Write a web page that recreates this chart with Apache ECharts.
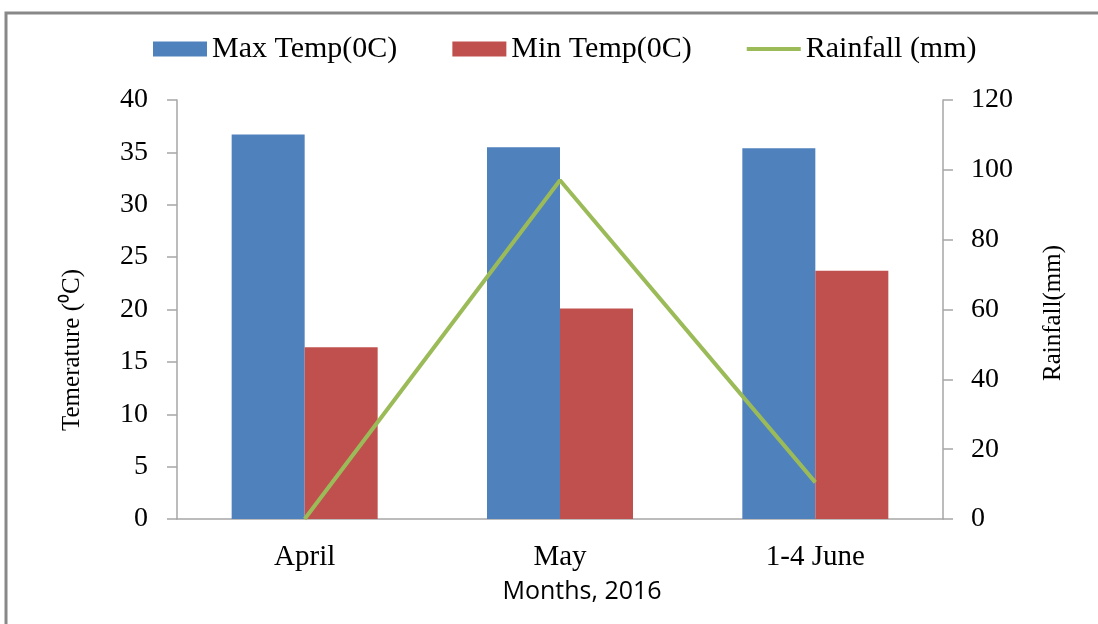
<!DOCTYPE html>
<html>
<head>
<meta charset="utf-8">
<script src="https://cdn.jsdelivr.net/npm/echarts@6/dist/echarts.min.js"></script>
<style>html,body{margin:0;padding:0;background:#fff;}#c{width:1098px;height:624px;}</style>
</head>
<body>
<div id="c"></div>
<script>
const categories = ['April', 'May', '1-4 June'];
const maxTemp = [36.7, 35.5, 35.4];
const minTemp = [16.4, 20.1, 23.7];
const rainfall = [0, 97, 10.5];
const tempTicks = {min: 0, max: 40, interval: 5};
const rainTicks = {min: 0, max: 120, interval: 20};

const serif = '"Liberation Serif", "Times New Roman", serif';
const chart = echarts.init(document.getElementById('c'), null, {renderer: 'canvas'});
const axisLineStyle = {color: '#A6A6A6', width: 1.5};
chart.setOption({
  animation: false,
  backgroundColor: '#fff',
  textStyle: {fontFamily: serif, color: '#000'},
  legend: {
    top: 29,
    left: 148,
    itemWidth: 54,
    itemHeight: 15,
    itemGap: 55,
    textStyle: {fontFamily: serif, fontSize: 30, color: '#000'},
    data: [
      {name: 'Max Temp(0C)', icon: 'rect'},
      {name: 'Min Temp(0C)', icon: 'rect'},
      {name: 'Rainfall (mm)', icon: 'path://M0 0H54V4H0Z'}
    ]
  },
  grid: {left: 177, right: 155, top: 100, bottom: 105, containLabel: false},
  xAxis: {
    type: 'category',
    data: categories,
    axisLine: {lineStyle: axisLineStyle},
    axisTick: {length: 7, lineStyle: axisLineStyle},
    axisLabel: {fontFamily: serif, fontSize: 29, color: '#000', margin: 24}
  },
  yAxis: [
    {
      type: 'value', min: tempTicks.min, max: tempTicks.max, interval: tempTicks.interval,
      position: 'left',
      axisLine: {show: true, lineStyle: axisLineStyle},
      axisTick: {show: true, length: 10, lineStyle: axisLineStyle},
      splitLine: {show: false},
      axisLabel: {fontFamily: serif, fontSize: 28, color: '#000', margin: 29}
    },
    {
      type: 'value', min: rainTicks.min, max: rainTicks.max, interval: rainTicks.interval,
      position: 'right',
      axisLine: {show: true, lineStyle: axisLineStyle},
      axisTick: {show: true, length: 10, lineStyle: axisLineStyle},
      splitLine: {show: false},
      axisLabel: {fontFamily: serif, fontSize: 28, color: '#000', margin: 28}
    }
  ],
  series: [
    {name: 'Max Temp(0C)', type: 'bar', data: maxTemp, barWidth: 73, barGap: '0%', itemStyle: {color: '#4F81BD'}},
    {name: 'Min Temp(0C)', type: 'bar', data: minTemp, barWidth: 73, barGap: '0%', itemStyle: {color: '#C0504D'}},
    {name: 'Rainfall (mm)', type: 'line', yAxisIndex: 1, data: rainfall, symbol: 'none',
     lineStyle: {color: '#9BBB59', width: 4}, itemStyle: {color: '#9BBB59'}}
  ],
  graphic: [
    {type: 'rect', shape: {x: 6, y: 13, width: 1110, height: 640}, style: {fill: 'none', stroke: '#888', lineWidth: 3}, silent: true},
    {type: 'text', x: 72, y: 350, rotation: Math.PI / 2,
     style: {text: 'Temerature (⁰C)', font: '25px ' + serif, fill: '#000', textAlign: 'center', textVerticalAlign: 'middle'}},
    {type: 'text', x: 1053, y: 313, rotation: Math.PI / 2,
     style: {text: 'Rainfall(mm)', font: '25px ' + serif, fill: '#000', textAlign: 'center', textVerticalAlign: 'middle'}},
    {type: 'text', x: 582, y: 592,
     style: {text: 'Months, 2016', font: '25px "Open Sans", "Noto Sans", sans-serif', fill: '#000', textAlign: 'center', textVerticalAlign: 'middle'}}
  ]
});
</script>
</body>
</html>
